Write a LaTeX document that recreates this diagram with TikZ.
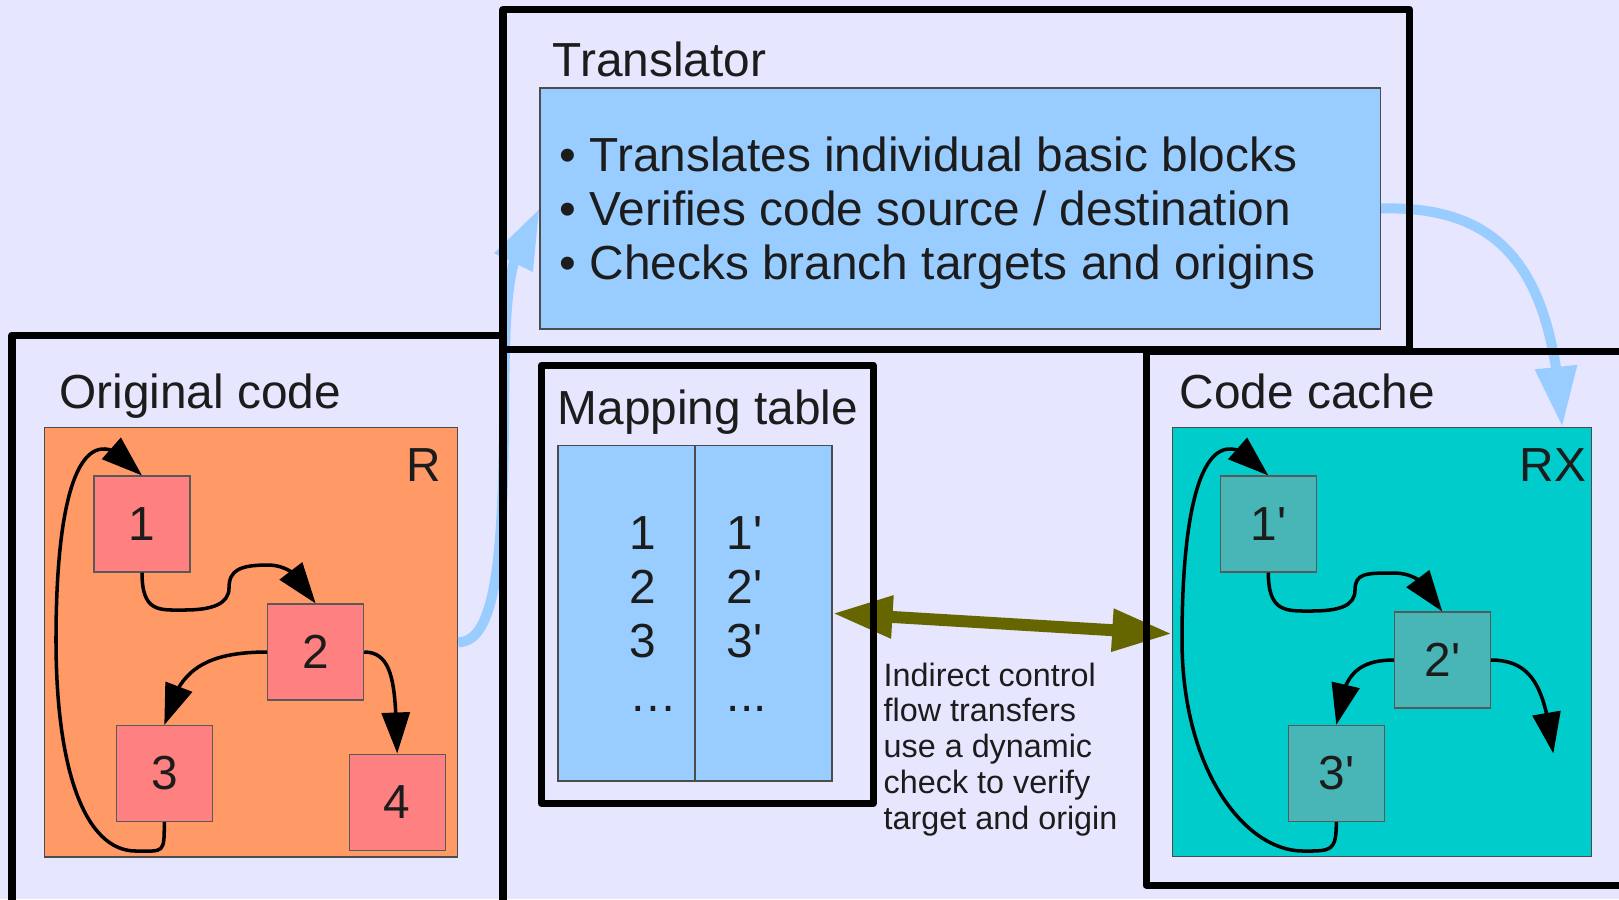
\documentclass[tikz,border=0pt]{standalone}
\usepackage{fontspec}
\setmainfont{Liberation Sans}
\usepackage{tikz}
\usetikzlibrary{arrows.meta,bending}

\definecolor{bgcol}{HTML}{E6E6FF}
\definecolor{origcol}{HTML}{FF9966}
\definecolor{blockcol}{HTML}{FF8080}
\definecolor{paleblue}{HTML}{99CCFF}
\definecolor{cachecol}{HTML}{00CCCC}
\definecolor{cblockcol}{HTML}{48B6B6}
\definecolor{lookupcol}{HTML}{666600}
\definecolor{txtcol}{HTML}{1C1C1C}

\newcommand\labfont{\fontsize{13.6pt}{15.3pt}\selectfont}
\newcommand\notefont{\fontsize{9.2pt}{10.2pt}\selectfont}
\newcommand\prmark{\textquotesingle}

\begin{document}
\begin{tikzpicture}[x=0.1mm,y=-0.1mm,
    region/.style={draw=black!70,line width=0.3pt,inner sep=0pt},
    origblock/.style={draw=black!65,fill=blockcol,line width=0.3pt,minimum size=9.6mm,inner sep=0pt,font=\labfont,text=txtcol},
    cacheblock/.style={origblock,fill=cblockcol},
    title/.style={anchor=base west,inner sep=0pt,font=\labfont,text=txtcol},
    flow/.style={line width=1pt,-{Triangle[length=4.1mm,width=2.8mm]}},
    feed/.style={paleblue,line width=2.85pt,-{Triangle[length=6mm,width=4mm]}},
    lookup/.style={lookupcol,line width=3.4pt,{Triangle[length=6mm,width=4mm]}-{Triangle[length=6mm,width=4mm]}},
    frame/.style={line width=2pt,line join=round}]
  \useasboundingbox (0,0) rectangle (1619,899);
  \clip (0,0) rectangle (1619,899);
  \fill[bgcol] (0,0) rectangle (1619,899);

  % memory regions
  \node[region,fill=origcol,minimum width=41.34mm,minimum height=42.95mm] (orig) at (251,642.25) {};
  \node[region,fill=paleblue,minimum width=84.05mm,minimum height=24.1mm] (trans) at (960.25,208.5) {};
  \node[region,fill=paleblue,minimum width=27.4mm,minimum height=33.53mm] (maptab) at (695,613.35) {};
  \node[region,fill=cachecol,minimum width=41.9mm,minimum height=42.89mm] (cache) at (1382.2,641.75) {};
  \draw[black!70,line width=0.3pt] (maptab.north) -- (maptab.south);

  % basic blocks
  \node[origblock] (b1) at (142,524) {1};
  \node[origblock] (b2) at (315.7,652) {2};
  \node[origblock] (b3) at (164.3,773.5) {3};
  \node[origblock] (b4) at (397.2,802) {4};
  \node[cacheblock] (c1) at (1268.3,524) {1\prmark};
  \node[cacheblock] (c2) at (1442.3,660) {2\prmark};
  \node[cacheblock] (c3) at (1336.3,773.3) {3\prmark};
  \coordinate (exit) at (1553.3,753.5);

  % control flow, original
  \draw[flow] (b1.south) .. controls +(0,40) and +(-25,0) .. (184,610)
    .. controls +(28,0) and +(0,16) .. (229,588)
    .. controls +(0,-18) and +(-28,0) .. (268,565)
    .. controls +(22,0) and +(-8,-22) .. (b2.north);
  \draw[flow] (b2.west) .. controls +(-75,0) and +(12,-45) .. (b3.north);
  \draw[flow] (b2.east) .. controls +(32,0) and +(-2,-60) .. (b4.north);
  \draw[flow] (b3.south) .. controls +(0,32) and +(28,0) .. (136,851)
    .. controls (85,851) and (56,770) .. (56,640)
    .. controls (56,480) and (85,405) .. (b1.north);

  % control flow, translated
  \draw[flow] (c1.south) .. controls +(0,40) and +(-25,0) .. (1311,611)
    .. controls +(28,0) and +(0,16) .. (1355,590)
    .. controls +(0,-17) and +(-28,0) .. (1394,573)
    .. controls +(22,0) and +(-8,-24) .. (c2.north);
  \draw[flow] (c2.west) .. controls +(-45,0) and +(6,-40) .. (c3.north);
  \draw[flow] (c2.east) .. controls +(45,0) and +(-8,-60) .. (exit);
  \draw[flow] (c3.south) .. controls +(0,30) and +(28,0) .. (1303,851)
    .. controls (1245,851) and (1182,770) .. (1182,640)
    .. controls (1182,480) and (1211,405) .. (c1.north);

  % translation path
  \draw[feed] (orig.east) .. controls (495,642) and (503,560) .. (504,420)
    .. controls (505,300) and (505,255) .. (trans.west);
  \draw[feed] (trans.east) .. controls (1510,205) and (1553,280) .. ([xshift=-3mm]cache.north east);
  \draw[lookup] (maptab.east) -- ([yshift=0.8mm]cache.west);

  % outer frames
  \draw[frame] (12,335) rectangle (503,930);
  \draw[frame] (503,9.5) rectangle (1409.5,349.5);
  \draw[frame] (541.5,365) rectangle (873,803.5);
  \draw[frame] (1146,351) rectangle (1622,885);

  % labels
  \node[title] (origttl) at (58.6,408) {Original code};
  \node[title] (transttl) at (552,76) {Translator};
  \node[title] (mapttl) at (557,424) {Mapping table};
  \node[title] (cachettl) at (1179,408.8) {Code cache};
  \node[title,anchor=base east] (rlbl) at (441.5,481.4) {R};
  \node[title,anchor=base east] (rxlbl) at (1587,481) {RX};
  % multi-line nodes sit on their last baseline
  \node[title,align=left] (steps) at (559,279.5) {\textbullet{} Translates individual basic blocks\\
    \textbullet{} Verifies code source / destination\\
    \textbullet{} Checks branch targets and origins};
  \node[title,align=left] (srccol) at (629,711) {1\\2\\3\\\ldots};
  \node[title,align=left] (dstcol) at (726,711) {1\prmark\\2\prmark\\3\prmark\\...};
  \node[title,font=\notefont,align=left] (note) at (883,829.5) {Indirect control\\flow transfers\\use a dynamic\\check to verify\\target and origin};
\end{tikzpicture}
\end{document}
